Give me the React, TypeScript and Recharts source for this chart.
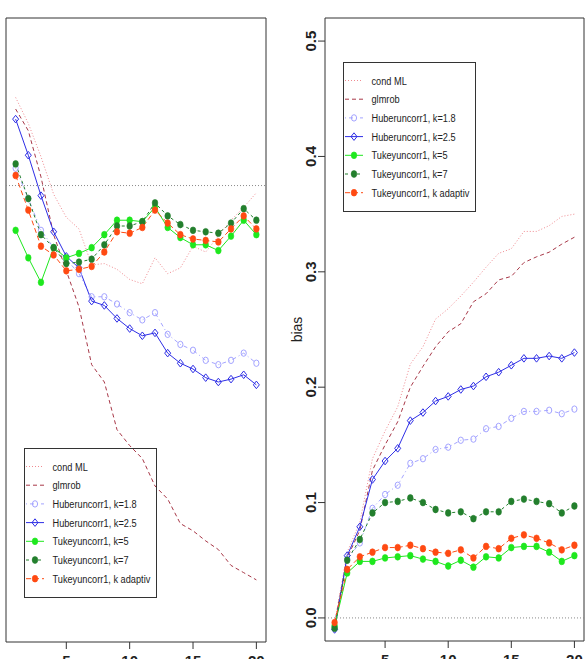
import { Label, Line, LineChart, ReferenceArea, ReferenceLine, XAxis, YAxis } from "recharts";

// sample size steps on the x axis
const steps = [1, 2, 3, 4, 5, 6, 7, 8, 9, 10, 11, 12, 13, 14, 15, 16, 17, 18, 19, 20];
const xTicks = [5, 10, 15, 20];

// left panel: bias per estimator
const leftCondML = [0.061, 0.043, 0.02, -0.006, -0.022, -0.03, -0.055, -0.054, -0.058, -0.065, -0.068, -0.05, -0.061, -0.057, -0.042, -0.046, -0.035, -0.024, -0.015, -0.005];
const leftGlmrob = [0.053, 0.038, 0.006, -0.034, -0.059, -0.084, -0.124, -0.136, -0.169, -0.18, -0.189, -0.208, -0.217, -0.234, -0.239, -0.246, -0.252, -0.263, -0.268, -0.273];
const leftHuber18 = [0.012, -0.009, -0.031, -0.043, -0.051, -0.061, -0.077, -0.077, -0.082, -0.088, -0.093, -0.088, -0.103, -0.11, -0.114, -0.121, -0.124, -0.121, -0.116, -0.123];
const leftHuber25 = [0.046, 0.021, -0.007, -0.032, -0.049, -0.057, -0.08, -0.083, -0.092, -0.099, -0.104, -0.102, -0.116, -0.123, -0.127, -0.133, -0.136, -0.134, -0.131, -0.138];
const leftTukey5 = [-0.031, -0.05, -0.067, -0.043, -0.05, -0.047, -0.043, -0.034, -0.024, -0.024, -0.025, -0.015, -0.029, -0.036, -0.041, -0.041, -0.045, -0.035, -0.024, -0.034];
const leftTukey7 = [0.015, -0.009, -0.034, -0.043, -0.054, -0.053, -0.051, -0.041, -0.028, -0.028, -0.025, -0.012, -0.021, -0.027, -0.031, -0.032, -0.033, -0.026, -0.016, -0.024];
const leftTukeyAdapt = [0.007, -0.017, -0.042, -0.048, -0.059, -0.058, -0.056, -0.046, -0.032, -0.033, -0.029, -0.017, -0.026, -0.034, -0.037, -0.038, -0.039, -0.03, -0.021, -0.03];
const leftTicks = [-0.3, -0.2, -0.1, 0, 0.1];

// right panel: bias per estimator
const rightCondML = [-0.005, 0.057, 0.083, 0.138, 0.162, 0.183, 0.22, 0.235, 0.259, 0.268, 0.279, 0.291, 0.304, 0.316, 0.32, 0.335, 0.335, 0.34, 0.348, 0.35];
const rightGlmrob = [-0.005, 0.052, 0.076, 0.128, 0.15, 0.17, 0.2, 0.218, 0.235, 0.248, 0.255, 0.274, 0.281, 0.293, 0.296, 0.308, 0.313, 0.317, 0.324, 0.33];
const rightHuber18 = [-0.008, 0.051, 0.065, 0.095, 0.107, 0.115, 0.134, 0.138, 0.146, 0.148, 0.154, 0.155, 0.164, 0.166, 0.173, 0.179, 0.179, 0.18, 0.177, 0.181];
const rightHuber25 = [-0.01, 0.054, 0.079, 0.12, 0.136, 0.147, 0.171, 0.178, 0.188, 0.192, 0.198, 0.201, 0.209, 0.213, 0.219, 0.225, 0.225, 0.227, 0.225, 0.23];
const rightTukey5 = [-0.007, 0.039, 0.049, 0.049, 0.052, 0.053, 0.054, 0.051, 0.049, 0.045, 0.05, 0.044, 0.053, 0.052, 0.061, 0.062, 0.062, 0.057, 0.049, 0.054];
const rightTukey7 = [-0.009, 0.05, 0.068, 0.091, 0.1, 0.101, 0.104, 0.1, 0.094, 0.091, 0.092, 0.086, 0.092, 0.092, 0.101, 0.103, 0.101, 0.099, 0.091, 0.097];
const rightTukeyAdapt = [-0.004, 0.042, 0.053, 0.057, 0.061, 0.061, 0.063, 0.06, 0.057, 0.056, 0.059, 0.052, 0.062, 0.06, 0.069, 0.072, 0.069, 0.065, 0.059, 0.063];
const rightTicks = [0, 0.1, 0.2, 0.3, 0.4, 0.5];

type Marker = "none" | "circle" | "diamond" | "filled";
type SeriesStyle = { key: string; name: string; color: string; dash?: string; marker: Marker };

const seriesStyles: SeriesStyle[] = [
  { key: "condML", name: "cond ML", color: "#f08a90", dash: "1 2", marker: "none" },
  { key: "glmrob", name: "glmrob", color: "#a83848", dash: "4 3", marker: "none" },
  { key: "huber18", name: "Huberuncorr1, k=1.8", color: "#a4a4ff", dash: "1 3 4 3", marker: "circle" },
  { key: "huber25", name: "Huberuncorr1, k=2.5", color: "#2e2ee6", marker: "diamond" },
  { key: "tukey5", name: "Tukeyuncorr1, k=5", color: "#1ee81e", marker: "filled" },
  { key: "tukey7", name: "Tukeyuncorr1, k=7", color: "#237f2d", dash: "3 3", marker: "filled" },
  { key: "tukeyAdapt", name: "Tukeyuncorr1, k adaptiv", color: "#ff4a12", dash: "5 3", marker: "filled" },
];

const sans = "'Liberation Sans', Arial, Helvetica, sans-serif";
const ink = "#333";

function buildRows(cols: Record<string, number[]>) {
  return steps.map((step, i) => {
    const row: Record<string, number> = { step };
    Object.entries(cols).forEach(([k, vals]) => {
      row[k] = vals[i];
    });
    return row;
  });
}

const leftRows = buildRows({
  condML: leftCondML,
  glmrob: leftGlmrob,
  huber18: leftHuber18,
  huber25: leftHuber25,
  tukey5: leftTukey5,
  tukey7: leftTukey7,
  tukeyAdapt: leftTukeyAdapt,
});

const rightRows = buildRows({
  condML: rightCondML,
  glmrob: rightGlmrob,
  huber18: rightHuber18,
  huber25: rightHuber25,
  tukey5: rightTukey5,
  tukey7: rightTukey7,
  tukeyAdapt: rightTukeyAdapt,
});

function markerShape(kind: Marker, color: string, cx: number, cy: number, key: string | number) {
  if (kind === "diamond") {
    const pts = `${cx},${cy - 3.8} ${cx + 3},${cy} ${cx},${cy + 3.8} ${cx - 3},${cy}`;
    return <polygon key={key} points={pts} fill="none" stroke={color} strokeWidth={1} />;
  }
  if (kind === "circle") {
    return <ellipse key={key} cx={cx} cy={cy} rx={2.6} ry={3.2} fill="none" stroke={color} strokeWidth={1} />;
  }
  if (kind === "filled") {
    return <ellipse key={key} cx={cx} cy={cy} rx={2.8} ry={3.4} fill={color} stroke={color} strokeWidth={0.6} />;
  }
  return <g key={key} />;
}

function dotFor(s: SeriesStyle) {
  if (s.marker === "none") return false;
  return (props: any) => {
    const { cx, cy, index } = props;
    if (cx == null || cy == null) return <g key={`e${index}`} />;
    return markerShape(s.marker, s.color, cx, cy, `${s.key}-${index}`);
  };
}

const XTick = ({ x, y, payload }: any) => (
  <text x={x} y={y + 15} textAnchor="middle" fontFamily={sans} fontWeight="bold" fontSize={15} fill="#222">
    {payload.value}
  </text>
);

const RotatedYTick = ({ x, y, payload }: any) => (
  <text
    x={x}
    y={y}
    transform={`rotate(-90, ${x}, ${y})`}
    textAnchor="middle"
    fontFamily={sans}
    fontWeight="bold"
    fontSize={15}
    fill="#222"
  >
    {Number(payload.value).toFixed(1)}
  </text>
);

const EmptyTick = () => <g />;

type PanelProps = {
  rows: Record<string, number>[];
  yDomain: [number, number];
  yTicks: number[];
  left: number;
  width: number;
  margin: { top: number; right: number; bottom: number; left: number };
  yAxisWidth: number;
  xAxisHeight: number;
  labelled: boolean;
};

const xDomain: [number, number] = [0.24, 20.76];

function BiasPanel({ rows, yDomain, yTicks, left, width, margin, yAxisWidth, xAxisHeight, labelled }: PanelProps) {
  return (
    <div style={{ position: "absolute", left, top: 0 }}>
      <LineChart width={width} height={680} data={rows} margin={margin}>
        <XAxis
          type="number"
          dataKey="step"
          domain={xDomain}
          allowDataOverflow
          ticks={xTicks}
          height={xAxisHeight}
          axisLine={false}
          tickSize={7}
          tickLine={{ stroke: ink }}
          tick={<XTick />}
        />
        <YAxis
          type="number"
          domain={yDomain}
          allowDataOverflow
          ticks={yTicks}
          width={yAxisWidth}
          axisLine={false}
          tickSize={7}
          tickLine={{ stroke: ink }}
          tick={labelled ? <RotatedYTick /> : <EmptyTick />}
        >
          {labelled && (
            <Label
              content={(p: any) => {
                const vb = p.viewBox || { x: 0, y: 0, width: 0, height: 0 };
                const cx = vb.x + 22;
                const cy = vb.y + vb.height / 2;
                return (
                  <text
                    x={cx}
                    y={cy}
                    transform={`rotate(-90, ${cx}, ${cy})`}
                    textAnchor="middle"
                    fontFamily={sans}
                    fontSize={14}
                    fill="#222"
                  >
                    bias
                  </text>
                );
              }}
            />
          )}
        </YAxis>
        <ReferenceLine y={0} stroke="#8a8a8a" strokeDasharray="1 2" strokeWidth={1} />
        {seriesStyles.map((s) => (
          <Line
            key={s.key}
            type="linear"
            dataKey={s.key}
            name={s.name}
            stroke={s.color}
            strokeWidth={1}
            strokeDasharray={s.dash}
            dot={dotFor(s)}
            activeDot={false}
            isAnimationActive={false}
          />
        ))}
        <ReferenceArea
          x1={xDomain[0]}
          x2={xDomain[1]}
          y1={yDomain[0]}
          y2={yDomain[1]}
          fill="none"
          fillOpacity={0}
          stroke={ink}
          strokeWidth={1}
          ifOverflow="visible"
        />
      </LineChart>
    </div>
  );
}

// condensed legend labels: regular sans squeezed horizontally
function LegendBox({ left, top }: { left: number; top: number }) {
  return (
    <svg style={{ position: "absolute", left, top }} width={134} height={151}>
      <rect x={0.5} y={0.5} width={132} height={149} fill="none" stroke={ink} strokeWidth={1} />
      {seriesStyles.map((s, i) => {
        const cy = 18.5 + i * 18.7;
        return (
          <g key={s.key}>
            <line x1={2} x2={20} y1={cy} y2={cy} stroke={s.color} strokeWidth={1} strokeDasharray={s.dash} />
            {markerShape(s.marker, s.color, 11, cy, `m${i}`)}
            <text
              transform={`translate(28.5, ${cy + 4}) scale(0.8, 1)`}
              fontFamily={sans}
              fontSize={11.5}
              fill="#222"
            >
              {s.name}
            </text>
          </g>
        );
      })}
    </svg>
  );
}

export default function App() {
  return (
    <div
      style={{
        position: "absolute",
        left: 0,
        top: 0,
        width: 587,
        height: 659,
        overflow: "hidden",
        background: "#fff",
      }}
    >
      <BiasPanel
        rows={leftRows}
        yDomain={[-0.316, 0.116]}
        yTicks={leftTicks}
        left={0}
        width={300}
        margin={{ top: 18, right: 34, bottom: 0, left: 6 }}
        yAxisWidth={0}
        xAxisHeight={38}
        labelled={false}
      />
      <BiasPanel
        rows={rightRows}
        yDomain={[-0.02, 0.52]}
        yTicks={rightTicks}
        left={280}
        width={307}
        margin={{ top: 18, right: 3, bottom: 0, left: 0 }}
        yAxisWidth={45}
        xAxisHeight={39}
        labelled={true}
      />
      <LegendBox left={24} top={448} />
      <LegendBox left={343} top={62} />
    </div>
  );
}
